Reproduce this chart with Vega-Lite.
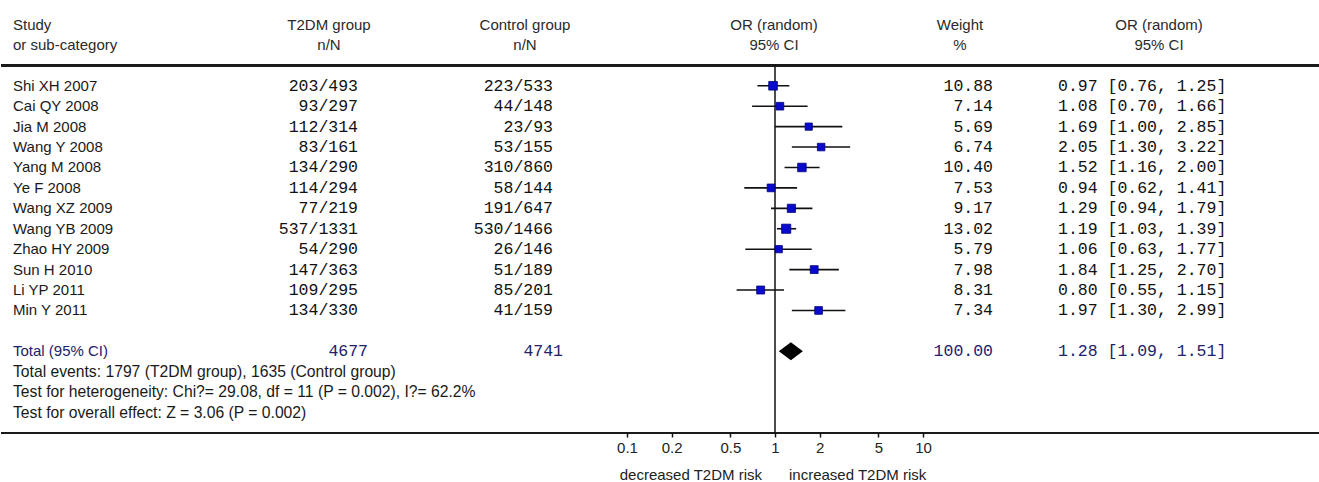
{
  "$schema": "https://vega.github.io/schema/vega-lite/v6.json",
  "width": 1319,
  "height": 433,
  "padding": 0,
  "background": "white",
  "config": {
    "view": {"stroke": null},
    "text": {"font": "Liberation Sans", "fontSize": 15, "color": "#1a1a1a"}
  },
  "datasets": {
    "studies": [
      {"study": "Shi XH 2007", "t2dm": "203/493", "control": "223/533", "weight": 10.88, "or": 0.97, "lo": 0.76, "hi": 1.25, "ci": "0.97 [0.76, 1.25]"},
      {"study": "Cai QY 2008", "t2dm": "93/297", "control": "44/148", "weight": 7.14, "or": 1.08, "lo": 0.70, "hi": 1.66, "ci": "1.08 [0.70, 1.66]"},
      {"study": "Jia M 2008", "t2dm": "112/314", "control": "23/93", "weight": 5.69, "or": 1.69, "lo": 1.00, "hi": 2.85, "ci": "1.69 [1.00, 2.85]"},
      {"study": "Wang Y 2008", "t2dm": "83/161", "control": "53/155", "weight": 6.74, "or": 2.05, "lo": 1.30, "hi": 3.22, "ci": "2.05 [1.30, 3.22]"},
      {"study": "Yang M 2008", "t2dm": "134/290", "control": "310/860", "weight": 10.40, "or": 1.52, "lo": 1.16, "hi": 2.00, "ci": "1.52 [1.16, 2.00]"},
      {"study": "Ye F 2008", "t2dm": "114/294", "control": "58/144", "weight": 7.53, "or": 0.94, "lo": 0.62, "hi": 1.41, "ci": "0.94 [0.62, 1.41]"},
      {"study": "Wang XZ 2009", "t2dm": "77/219", "control": "191/647", "weight": 9.17, "or": 1.29, "lo": 0.94, "hi": 1.79, "ci": "1.29 [0.94, 1.79]"},
      {"study": "Wang YB 2009", "t2dm": "537/1331", "control": "530/1466", "weight": 13.02, "or": 1.19, "lo": 1.03, "hi": 1.39, "ci": "1.19 [1.03, 1.39]"},
      {"study": "Zhao HY 2009", "t2dm": "54/290", "control": "26/146", "weight": 5.79, "or": 1.06, "lo": 0.63, "hi": 1.77, "ci": "1.06 [0.63, 1.77]"},
      {"study": "Sun H 2010", "t2dm": "147/363", "control": "51/189", "weight": 7.98, "or": 1.84, "lo": 1.25, "hi": 2.70, "ci": "1.84 [1.25, 2.70]"},
      {"study": "Li YP 2011", "t2dm": "109/295", "control": "85/201", "weight": 8.31, "or": 0.80, "lo": 0.55, "hi": 1.15, "ci": "0.80 [0.55, 1.15]"},
      {"study": "Min Y 2011", "t2dm": "134/330", "control": "41/159", "weight": 7.34, "or": 1.97, "lo": 1.30, "hi": 2.99, "ci": "1.97 [1.30, 2.99]"}
    ],
    "total": [
      {"study": "Total (95% CI)", "t2dm": "4677", "control": "4741", "weight": 100.00, "or": 1.28, "lo": 1.09, "hi": 1.51, "ci": "1.28 [1.09, 1.51]"}
    ],
    "footer": [
      {"key": "f1", "text": "Total events: 1797 (T2DM group), 1635 (Control group)"},
      {"key": "f2", "text": "Test for heterogeneity: Chi?= 29.08, df = 11 (P = 0.002), I?= 62.2%"},
      {"key": "f3", "text": "Test for overall effect: Z = 3.06 (P = 0.002)"}
    ],
    "headers": [
      {"col": "study", "line": "h1", "text": "Study"},
      {"col": "study", "line": "h2", "text": "or sub-category"},
      {"col": "t2dm", "line": "h1", "text": "T2DM group"},
      {"col": "t2dm", "line": "h2", "text": "n/N"},
      {"col": "control", "line": "h1", "text": "Control group"},
      {"col": "control", "line": "h2", "text": "n/N"},
      {"col": "forest", "line": "h1", "text": "OR (random)"},
      {"col": "forest", "line": "h2", "text": "95% CI"},
      {"col": "weight", "line": "h1", "text": "Weight"},
      {"col": "weight", "line": "h2", "text": "%"},
      {"col": "ci", "line": "h1", "text": "OR (random)"},
      {"col": "ci", "line": "h2", "text": "95% CI"}
    ],
    "direction": [
      {"side": "left", "text": "decreased T2DM risk"},
      {"side": "right", "text": "increased T2DM risk"}
    ]
  },
  "resolve": {"scale": {"x": "independent"}, "axis": {"x": "independent"}},
  "layer": [
    {
      "layer": [
        {
          "data": {"name": "studies"},
          "mark": {"type": "rule", "color": "#1a1a1a", "strokeWidth": 2},
          "encoding": {
            "y": {
              "datum": "top", "type": "nominal", "axis": null,
              "scale": {
                "type": "point", "padding": 0.6, "align": 1,
                "domain": ["h1", "h2", "top", "Shi XH 2007", "Cai QY 2008", "Jia M 2008", "Wang Y 2008", "Yang M 2008", "Ye F 2008", "Wang XZ 2009", "Wang YB 2009", "Zhao HY 2009", "Sun H 2010", "Li YP 2011", "Min Y 2011", "gap", "Total (95% CI)", "f1", "f2", "f3", "bottom"]
              }
            }
          }
        },
        {
          "data": {"name": "studies"},
          "mark": {"type": "rule", "color": "#1a1a1a", "strokeWidth": 2},
          "encoding": {"y": {"datum": "bottom", "type": "nominal", "axis": null}}
        },
        {
          "data": {"name": "total"},
          "mark": {"type": "rule", "color": "#111111", "strokeWidth": 1.5},
          "encoding": {
            "x": {
              "datum": 1, "type": "quantitative",
              "scale": {"type": "log", "domain": [0.1, 10], "range": [626, 922], "nice": false},
              "axis": {
                "values": [0.1, 0.2, 0.5, 1, 2, 5, 10], "format": "~g", "domain": false, "grid": false,
                "tickSize": 4, "tickWidth": 1.5, "tickColor": "#111111", "labelFont": "Liberation Sans",
                "labelFontSize": 15, "labelColor": "#222222", "labelPadding": 3, "labelFlush": false,
                "labelOverlap": false, "title": null
              }
            },
            "y": {"datum": "top", "type": "nominal", "axis": null},
            "y2": {"datum": "bottom"}
          }
        },
        {
          "data": {"name": "studies"},
          "mark": {"type": "rule", "color": "#111111", "strokeWidth": 1.6},
          "encoding": {
            "x": {"field": "lo", "type": "quantitative"},
            "x2": {"field": "hi"},
            "y": {"field": "study", "type": "nominal", "axis": null}
          }
        },
        {
          "data": {"name": "studies"},
          "mark": {"type": "square", "filled": true, "color": "#0a0acc", "stroke": "#00007a", "strokeWidth": 0.8, "opacity": 1},
          "encoding": {
            "x": {"field": "or", "type": "quantitative"},
            "y": {"field": "study", "type": "nominal", "axis": null},
            "size": {"field": "weight", "type": "quantitative", "scale": {"domain": [5.69, 13.02], "range": [52, 84], "zero": false}, "legend": null}
          }
        },
        {
          "data": {"name": "total"},
          "mark": {"type": "point", "shape": "M-1,0L0,-0.75L1,0L0,0.75Z", "filled": true, "color": "#000000", "size": 576, "opacity": 1},
          "encoding": {
            "x": {"field": "or", "type": "quantitative"},
            "y": {"field": "study", "type": "nominal", "axis": null}
          }
        },
        {
          "data": {"name": "direction"},
          "transform": [{"filter": "datum.side == 'left'"}],
          "mark": {"type": "text", "align": "right", "baseline": "middle", "dx": -13, "dy": 42, "fontSize": 15, "color": "#222222"},
          "encoding": {
            "x": {"datum": 1, "type": "quantitative"},
            "y": {"datum": "bottom", "type": "nominal", "axis": null},
            "text": {"field": "text"}
          }
        },
        {
          "data": {"name": "direction"},
          "transform": [{"filter": "datum.side == 'right'"}],
          "mark": {"type": "text", "align": "left", "baseline": "middle", "dx": 14, "dy": 42, "fontSize": 15, "color": "#222222"},
          "encoding": {
            "x": {"datum": 1, "type": "quantitative"},
            "y": {"datum": "bottom", "type": "nominal", "axis": null},
            "text": {"field": "text"}
          }
        }
      ]
    },
    {
      "layer": [
        {
          "data": {"name": "studies"},
          "mark": {"type": "text", "align": "left"},
          "encoding": {
            "x": {"datum": 12, "type": "quantitative", "scale": {"domain": [0, 1319], "nice": false, "zero": false}, "axis": null},
            "y": {"field": "study", "type": "nominal", "axis": null},
            "text": {"field": "study"}
          }
        },
        {
          "data": {"name": "studies"},
          "mark": {"type": "text", "align": "right", "font": "Liberation Mono", "fontSize": 16.5, "color": "#111111"},
          "encoding": {
            "x": {"datum": 357, "type": "quantitative"},
            "y": {"field": "study", "type": "nominal", "axis": null},
            "text": {"field": "t2dm"}
          }
        },
        {
          "data": {"name": "studies"},
          "mark": {"type": "text", "align": "right", "font": "Liberation Mono", "fontSize": 16.5, "color": "#111111"},
          "encoding": {
            "x": {"datum": 552, "type": "quantitative"},
            "y": {"field": "study", "type": "nominal", "axis": null},
            "text": {"field": "control"}
          }
        },
        {
          "data": {"name": "studies"},
          "mark": {"type": "text", "align": "right", "font": "Liberation Mono", "fontSize": 16.5, "color": "#111111"},
          "encoding": {
            "x": {"datum": 992, "type": "quantitative"},
            "y": {"field": "study", "type": "nominal", "axis": null},
            "text": {"field": "weight", "type": "quantitative", "format": ".2f"}
          }
        },
        {
          "data": {"name": "studies"},
          "mark": {"type": "text", "align": "left", "font": "Liberation Mono", "fontSize": 16.5, "color": "#111111"},
          "encoding": {
            "x": {"datum": 1057, "type": "quantitative"},
            "y": {"field": "study", "type": "nominal", "axis": null},
            "text": {"field": "ci"}
          }
        },
        {
          "data": {"name": "total"},
          "mark": {"type": "text", "align": "left", "color": "#22226a"},
          "encoding": {
            "x": {"datum": 12, "type": "quantitative"},
            "y": {"field": "study", "type": "nominal", "axis": null},
            "text": {"field": "study"}
          }
        },
        {
          "data": {"name": "total"},
          "mark": {"type": "text", "align": "right", "font": "Liberation Mono", "fontSize": 16.5, "color": "#22226a"},
          "encoding": {
            "x": {"datum": 367, "type": "quantitative"},
            "y": {"field": "study", "type": "nominal", "axis": null},
            "text": {"field": "t2dm"}
          }
        },
        {
          "data": {"name": "total"},
          "mark": {"type": "text", "align": "right", "font": "Liberation Mono", "fontSize": 16.5, "color": "#22226a"},
          "encoding": {
            "x": {"datum": 562, "type": "quantitative"},
            "y": {"field": "study", "type": "nominal", "axis": null},
            "text": {"field": "control"}
          }
        },
        {
          "data": {"name": "total"},
          "mark": {"type": "text", "align": "right", "font": "Liberation Mono", "fontSize": 16.5, "color": "#22226a"},
          "encoding": {
            "x": {"datum": 992, "type": "quantitative"},
            "y": {"field": "study", "type": "nominal", "axis": null},
            "text": {"field": "weight", "type": "quantitative", "format": ".2f"}
          }
        },
        {
          "data": {"name": "total"},
          "mark": {"type": "text", "align": "left", "font": "Liberation Mono", "fontSize": 16.5, "color": "#22226a"},
          "encoding": {
            "x": {"datum": 1057, "type": "quantitative"},
            "y": {"field": "study", "type": "nominal", "axis": null},
            "text": {"field": "ci"}
          }
        },
        {
          "data": {"name": "footer"},
          "mark": {"type": "text", "align": "left", "fontSize": 15.7},
          "encoding": {
            "x": {"datum": 12, "type": "quantitative"},
            "y": {"field": "key", "type": "nominal", "axis": null},
            "text": {"field": "text"}
          }
        },
        {
          "data": {"name": "headers"},
          "transform": [{"filter": "datum.col == 'study'"}],
          "mark": {"type": "text", "align": "left", "color": "#2a2a2a"},
          "encoding": {
            "x": {"datum": 12, "type": "quantitative"},
            "y": {"field": "line", "type": "nominal", "axis": null},
            "text": {"field": "text"}
          }
        },
        {
          "data": {"name": "headers"},
          "transform": [{"filter": "datum.col == 't2dm'"}],
          "mark": {"type": "text", "align": "center", "color": "#2a2a2a"},
          "encoding": {
            "x": {"datum": 328, "type": "quantitative"},
            "y": {"field": "line", "type": "nominal", "axis": null},
            "text": {"field": "text"}
          }
        },
        {
          "data": {"name": "headers"},
          "transform": [{"filter": "datum.col == 'control'"}],
          "mark": {"type": "text", "align": "center", "color": "#2a2a2a"},
          "encoding": {
            "x": {"datum": 524, "type": "quantitative"},
            "y": {"field": "line", "type": "nominal", "axis": null},
            "text": {"field": "text"}
          }
        },
        {
          "data": {"name": "headers"},
          "transform": [{"filter": "datum.col == 'forest'"}],
          "mark": {"type": "text", "align": "center", "color": "#2a2a2a"},
          "encoding": {
            "x": {"datum": 773, "type": "quantitative"},
            "y": {"field": "line", "type": "nominal", "axis": null},
            "text": {"field": "text"}
          }
        },
        {
          "data": {"name": "headers"},
          "transform": [{"filter": "datum.col == 'weight'"}],
          "mark": {"type": "text", "align": "center", "color": "#2a2a2a"},
          "encoding": {
            "x": {"datum": 959, "type": "quantitative"},
            "y": {"field": "line", "type": "nominal", "axis": null},
            "text": {"field": "text"}
          }
        },
        {
          "data": {"name": "headers"},
          "transform": [{"filter": "datum.col == 'ci'"}],
          "mark": {"type": "text", "align": "center", "color": "#2a2a2a"},
          "encoding": {
            "x": {"datum": 1158, "type": "quantitative"},
            "y": {"field": "line", "type": "nominal", "axis": null},
            "text": {"field": "text"}
          }
        }
      ]
    }
  ]
}
